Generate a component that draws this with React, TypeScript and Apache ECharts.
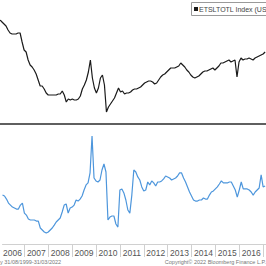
import React, { useEffect, useRef } from "react";
import * as echarts from "echarts";

// Monthly observations, Feb 2006 .. Feb 2017
const startYear = 2006;
const startMonthIndex = 1; // Feb 2006 (0 = Jan)

// Existing home sales, SAAR (millions)
const salesValues = [
  7.0, 6.94, 6.88, 6.82, 6.7, 6.61, 6.58, 6.58, 6.58, 6.61, 6.61, 6.34,
  6.1, 6.04, 5.8, 5.65, 5.59, 5.5, 5.38, 5.2, 5.02, 5.02, 4.93, 4.81,
  4.75, 4.75, 4.75, 4.75, 4.75, 4.78, 4.78, 4.87, 4.75, 4.54, 4.63, 4.6,
  4.63, 4.6, 4.6, 4.63, 4.72, 4.93, 5.05, 5.2, 5.44, 5.8, 5.26, 4.96,
  4.81, 4.96, 5.26, 5.35, 5.05, 4.24, 4.39, 4.48, 4.57, 4.66, 4.81, 4.96,
  4.84, 4.87, 4.78, 4.81, 4.81, 4.84, 4.9, 4.93, 4.93, 4.96, 4.99, 5.05,
  5.11, 5.14, 5.17, 5.17, 5.14, 5.08, 5.11, 5.2, 5.29, 5.35, 5.38, 5.44,
  5.5, 5.56, 5.56, 5.56, 5.59, 5.62, 5.71, 5.65, 5.59, 5.5, 5.44, 5.35,
  5.29, 5.26, 5.29, 5.32, 5.38, 5.44, 5.47, 5.47, 5.5, 5.53, 5.56, 5.5,
  5.56, 5.62, 5.71, 5.71, 5.74, 5.77, 5.8, 5.74, 5.77, 5.8, 5.29, 5.74,
  5.86, 5.8, 5.83, 5.83, 5.86, 5.83, 5.8, 5.86, 5.89, 5.92, 5.95, 5.98,
  6.04,
];

// Year-over-year change (%)
const yoyValues = [
  -0.8, -1.5, -3.8, -6.8, -8.3, -9.8, -10.5, -11.3, -11.3, -8.3, -6.8, -14.3,
  -15.8, -18.8, -19.5, -19.5, -19.5, -20.3, -20.3, -25.5, -27.0, -28.5, -29.3, -28.5,
  -27.0, -25.5, -23.3, -21.0, -19.5, -18.0, -13.5, -8.3, -7.5, -14.3, -10.5, -9.8,
  -8.3, -4.5, -5.3, -3.8, -1.5, 3.0, 6.8, 8.3, 15.8, 43.5, 12.0, 9.8,
  9.0, 10.5, 18.0, 22.5, 16.5, -19.5, -17.3, -16.5, -16.5, -22.5, -24.8, 3.0,
  3.8, 0.8, -4.5, -12.0, -14.3, -0.8, 18.0, 16.5, 12.8, 10.5, 5.3, 2.3,
  3.0, 9.0, 6.8, 9.8, 8.3, 6.0, 9.0, 9.0, 9.8, 11.3, 13.5, 12.8,
  12.0, 10.5, 11.3, 12.0, 13.5, 15.8, 15.8, 12.0, 9.0, 5.3, 1.5, -1.5,
  -4.5, -5.3, -5.3, -4.5, -4.5, -3.0, -3.8, -3.8, -0.8, 1.5, 2.3, 3.8,
  5.3, 7.5, 9.8, 8.3, 8.3, 8.3, 9.0, 9.0, 6.0, 3.0, -2.3, 3.0,
  9.0, 3.8, 3.8, 3.8, 3.0, 1.5, -0.8, 1.5, 3.0, 4.5, 14.3, 5.3,
  6.0,
];

// Year boundaries (tick marks) and year labels (centred in each year)
const yearTicks = [2007, 2008, 2009, 2010, 2011, 2012, 2013, 2014, 2015, 2016, 2017];
const yearLabels = [2006, 2007, 2008, 2009, 2010, 2011, 2012, 2013, 2014, 2015, 2016];

// Visible time window (decimal years)
const xMin = 2006.083;
const xMax = 2017.12;

const legendText = "ETSLTOTL Index (US";
const footerLeft = "y 31/08/1999-31/03/2022";
const footerRight = "Copyright\u00a9 2022 Bloomberg Finance L.P.";

const toX = (i: number) => startYear + (startMonthIndex + i) / 12;

export default function App() {
  const ref = useRef<HTMLDivElement>(null);

  useEffect(() => {
    if (!ref.current) return;
    const chart = echarts.init(ref.current, null, { renderer: "svg" });
    const font = "Liberation Sans";

    chart.setOption({
      animation: false,
      backgroundColor: "#ffffff",
      grid: [
        { left: 0, right: 0, top: 20, height: 100 },
        { left: 0, right: 0, top: 128, height: 116 },
      ],
      xAxis: [
        { type: "value", gridIndex: 0, min: xMin, max: xMax, show: false },
        {
          type: "value",
          gridIndex: 1,
          min: xMin,
          max: xMax,
          position: "bottom",
          axisLine: {
            show: true,
            onZero: false,
            lineStyle: { color: "#d0d0d0", width: 1 },
          },
          axisTick: {
            show: true,
            customValues: yearTicks,
            length: 13,
            lineStyle: { color: "#d0d0d0", width: 1 },
          },
          axisLabel: {
            customValues: yearLabels.map((y) => y + 0.5),
            formatter: (v: number) => String(Math.floor(v)),
            color: "#555555",
            fontSize: 8.5,
            fontFamily: font,
            margin: 4,
          },
          splitLine: { show: false },
        },
      ],
      yAxis: [
        { type: "value", gridIndex: 0, min: 4.0, max: 7.0, show: false },
        { type: "value", gridIndex: 1, min: -37.5, max: 49.5, show: false },
      ],
      series: [
        {
          type: "line",
          xAxisIndex: 0,
          yAxisIndex: 0,
          data: salesValues.map((v, i) => [toX(i), v]),
          showSymbol: false,
          lineStyle: { color: "#1a1a1a", width: 1.2 },
          itemStyle: { color: "#1a1a1a" },
        },
        {
          type: "line",
          xAxisIndex: 1,
          yAxisIndex: 1,
          data: yoyValues.map((v, i) => [toX(i), v]),
          showSymbol: false,
          lineStyle: { color: "#4d96dc", width: 1.2 },
          itemStyle: { color: "#4d96dc" },
        },
      ],
      graphic: [
        {
          type: "rect",
          shape: { x: 0, y: 123, width: 266, height: 2 },
          style: { fill: "#5f5f5f" },
          silent: true,
        },
        {
          type: "rect",
          shape: { x: 191.5, y: 2.5, width: 80, height: 13 },
          style: { fill: "#ffffff", stroke: "#9a9a9a", lineWidth: 1 },
          silent: true,
        },
        {
          type: "rect",
          shape: { x: 194, y: 7, width: 4, height: 4 },
          style: { fill: "#1a1a1a" },
          silent: true,
        },
        {
          type: "text",
          x: 199,
          y: 9.5,
          style: {
            text: legendText,
            fill: "#444444",
            fontSize: 7,
            fontFamily: font,
            verticalAlign: "middle",
            align: "left",
          },
          silent: true,
        },
        {
          type: "text",
          x: 0,
          y: 262,
          style: {
            text: footerLeft,
            fill: "#777777",
            fontSize: 5.5,
            fontFamily: font,
            verticalAlign: "middle",
            align: "left",
          },
          silent: true,
        },
        {
          type: "text",
          x: 266,
          y: 262,
          style: {
            text: footerRight,
            fill: "#777777",
            fontSize: 5.5,
            fontFamily: font,
            verticalAlign: "middle",
            align: "right",
          },
          silent: true,
        },
      ],
    });

    return () => chart.dispose();
  }, []);

  return (
    <div
      ref={ref}
      style={{
        position: "fixed",
        left: 0,
        top: 0,
        width: 266,
        height: 266,
        overflow: "hidden",
        background: "#fff",
      }}
    />
  );
}
